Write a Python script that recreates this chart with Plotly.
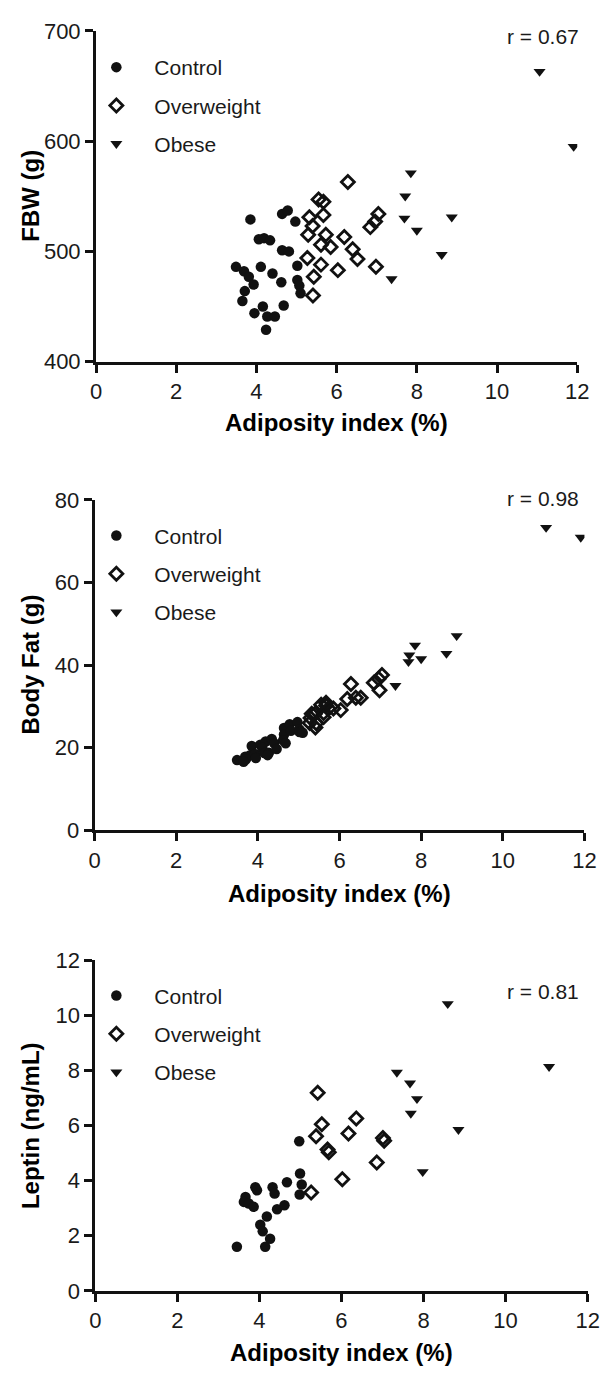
import plotly.graph_objects as go

# ---------------- data ----------------
# Panel A: FBW vs adiposity index
ctrl_x = [3.85, 4.64, 4.78, 4.97, 4.06, 4.19, 4.34, 4.64, 4.81, 3.49, 3.69, 3.81, 3.93, 3.71,
          3.65, 4.11, 4.40, 4.62, 5.02, 5.02, 5.07, 5.10, 3.95, 4.16, 4.27, 4.46, 4.24, 4.68]
ctrl_fbw = [529, 534, 537, 527, 511, 512, 510, 501, 500, 486, 482, 477, 470, 464,
            455, 486, 480, 472, 487, 474, 469, 462, 444, 450, 441, 441, 429, 451]
ctrl_fat = [20.4, 24.8, 25.7, 26.2, 20.7, 21.5, 22.1, 23.2, 24.1, 17.0, 17.8, 18.2, 18.5, 17.2,
            16.6, 20.0, 21.1, 21.8, 24.4, 23.8, 23.8, 23.6, 17.5, 18.7, 18.8, 19.7, 18.2, 21.1]

ow_x = [6.28, 5.55, 5.67, 5.32, 5.67, 5.40, 5.29, 5.73, 6.19, 5.61, 5.85, 6.40, 6.52, 5.27,
        5.61, 6.03, 5.43, 5.41, 7.04, 6.96, 6.84, 6.98]
ow_fbw = [563, 547, 545, 531, 533, 523, 515, 515, 513, 506, 504, 502, 493, 494,
          488, 483, 477, 460, 534, 527, 522, 486]
ow_fat = [35.4, 30.4, 30.9, 28.2, 30.2, 28.2, 27.2, 29.5, 31.8, 28.4, 29.5, 32.1, 32.1, 26.0,
          27.4, 29.1, 25.9, 24.9, 37.6, 36.7, 35.7, 33.9]

ob_x = [11.06, 11.91, 7.85, 7.71, 7.69, 8.00, 8.87, 8.62, 7.37]
ob_fbw = [663, 595, 571, 550, 530, 519, 531, 497, 475]
ob_fat = [73.3, 70.9, 44.8, 42.4, 40.8, 41.5, 47.1, 42.8, 35.0]

# Panel C: leptin vs adiposity index
lep_ctrl_x = [3.45, 4.14, 4.26, 4.02, 4.08, 4.18, 3.66, 3.62, 3.74, 3.86, 3.90, 3.94, 4.32, 4.37,
              4.43, 4.61, 4.67, 4.97, 4.99, 5.03, 4.98]
lep_ctrl_y = [1.60, 1.60, 1.89, 2.40, 2.16, 2.70, 3.41, 3.23, 3.17, 3.05, 3.76, 3.65, 3.76, 3.53,
              2.96, 3.11, 3.94, 5.43, 4.26, 3.86, 3.50]
lep_ow_x = [5.42, 5.52, 5.38, 5.66, 5.69, 5.26, 6.17, 6.36, 6.02, 7.01, 7.04, 6.86]
lep_ow_y = [7.19, 6.05, 5.61, 5.13, 5.03, 3.57, 5.71, 6.26, 4.05, 5.55, 5.45, 4.66]
lep_ob_x = [8.59, 11.06, 7.35, 7.67, 7.84, 7.69, 8.85, 7.98]
lep_ob_y = [10.42, 8.14, 7.93, 7.54, 6.97, 6.44, 5.85, 4.32]

group_names = ["Control", "Overweight", "Obese"]
r_labels = ["r = 0.67", "r = 0.98", "r = 0.81"]
y_titles = ["FBW (g)", "Body Fat (g)", "Leptin (ng/mL)"]
x_title = "Adiposity index (%)"
y_ranges = [[400, 700], [0, 80], [0, 12]]
y_dticks = [100, 20, 2]

# ---------------- layout geometry (page pixels) ----------------
W, H = 613, 1379
OFF = 8  # default page body margin of the written HTML
x_dom_px = [(92.5, 588.3), (91.0, 595.7), (91.8, 599.0)]
y_dom_px = [(19.0, 356.0), (496.7, 833.3), (965.7, 1302.3)]
legend_left_px = 66.3 + OFF
legend_top_px = [35.5, 512.5, 981.0]
r_y_px = [25.0, 495.0, 997.7]
xt_y_px = [418.0, 898.0, 1365.0]


def px(v):
    return (v - OFF) / W


def py(v):
    return 1 - (v - OFF) / H


FONT = "Liberation Sans, Arial, Helvetica, sans-serif"
INK = "#1a1a1a"

panels = [
    [(ctrl_x, ctrl_fbw), (ow_x, ow_fbw), (ob_x, ob_fbw)],
    [(ctrl_x, ctrl_fat), (ow_x, ow_fat), (ob_x, ob_fat)],
    [(lep_ctrl_x, lep_ctrl_y), (lep_ow_x, lep_ow_y), (lep_ob_x, lep_ob_y)],
]

markers = [
    dict(symbol="circle", size=10.5, color="#111111", line=dict(width=0)),
    dict(symbol="diamond-open", size=10, color="#111111", line=dict(width=2.8, color="#111111")),
    dict(symbol="triangle-down", size=10.5, color="#111111", line=dict(width=0)),
]

fig = go.Figure()
for p, series in enumerate(panels):
    sfx = "" if p == 0 else str(p + 1)
    leg = "legend" if p == 0 else "legend" + str(p + 1)
    for g, (xs, ys) in enumerate(series):
        fig.add_trace(go.Scatter(
            x=xs, y=ys, mode="markers", name=group_names[g],
            marker=markers[g], xaxis="x" + sfx, yaxis="y" + sfx,
            legend=leg, legendgroup=f"p{p}g{g}", showlegend=True,
            hoverinfo="x+y",
        ))

layout = dict(
    width=W, height=H, margin=dict(l=0, r=0, t=0, b=0),
    paper_bgcolor="white", plot_bgcolor="white",
    font=dict(family=FONT, size=21, color=INK),
    showlegend=True,
)

annotations = []
for p in range(3):
    sfx = "" if p == 0 else str(p + 1)
    xd = [px(x_dom_px[p][0]), px(x_dom_px[p][1])]
    yd = [py(y_dom_px[p][1]), py(y_dom_px[p][0])]
    common = dict(showline=True, linewidth=3, linecolor="#111111", ticks="outside",
                  ticklen=8, tickwidth=3, tickcolor="#111111", showgrid=False,
                  zeroline=False, tickfont=dict(family=FONT, size=22, color=INK),
                  fixedrange=True)
    layout["xaxis" + sfx] = dict(domain=xd, range=[0, 12], dtick=2, tick0=0,
                                 anchor="y" + sfx, **common)
    layout["yaxis" + sfx] = dict(domain=yd, range=y_ranges[p], dtick=y_dticks[p],
                                 tick0=0, anchor="x" + sfx, **common)
    leg = "legend" if p == 0 else "legend" + str(p + 1)
    layout[leg] = dict(x=px(legend_left_px), y=py(legend_top_px[p]), xanchor="left", yanchor="top",
                       bgcolor="rgba(0,0,0,0)", borderwidth=0, itemwidth=66,
                       traceorder="grouped", tracegroupgap=8,
                       font=dict(family=FONT, size=21, color=INK),
                       itemclick=False, itemdoubleclick=False)
    annotations.append(dict(text=r_labels[p], xref="paper", yref="paper",
                            x=px(592), y=py(r_y_px[p]), xanchor="right", yanchor="middle",
                            showarrow=False, font=dict(family=FONT, size=21, color=INK)))
    annotations.append(dict(text="<b>" + y_titles[p] + "</b>", xref="paper", yref="paper",
                            x=px(25), y=py((y_dom_px[p][0] + y_dom_px[p][1]) / 2),
                            xanchor="center", yanchor="middle", textangle=-90,
                            showarrow=False, font=dict(family=FONT, size=24, color="#000000")))
    annotations.append(dict(text="<b>" + x_title + "</b>", xref="paper", yref="paper",
                            x=px((x_dom_px[p][0] + x_dom_px[p][1]) / 2), y=py(xt_y_px[p]),
                            xanchor="center", yanchor="middle",
                            showarrow=False, font=dict(family=FONT, size=24, color="#000000")))

layout["annotations"] = annotations
fig.update_layout(**layout)
fig.write_html("out.html")
